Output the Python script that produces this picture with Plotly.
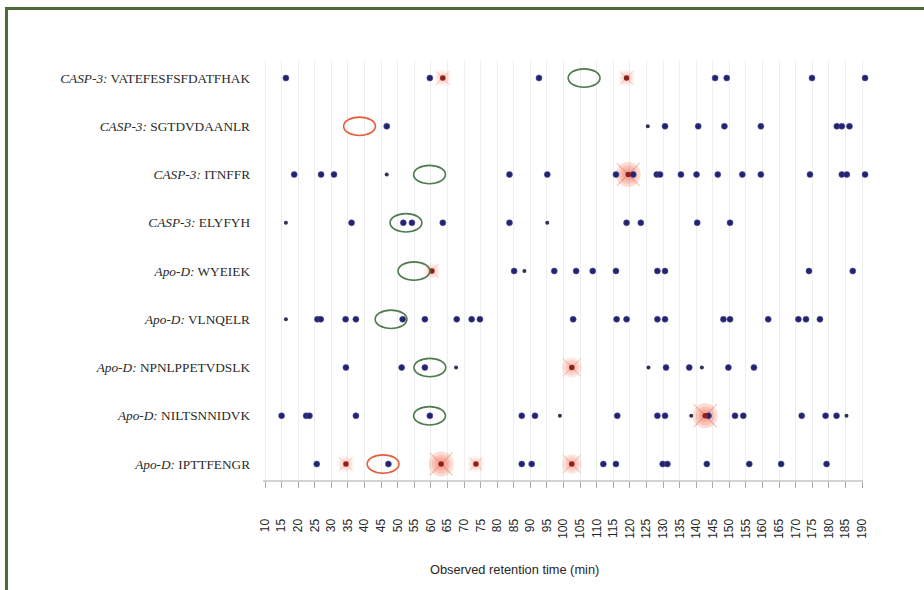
import plotly.graph_objects as go

# Peptides, listed top to bottom
peptides = [
    "<i>CASP-3:</i> VATEFESFSFDATFHAK",
    "<i>CASP-3:</i> SGTDVDAANLR",
    "<i>CASP-3:</i> ITNFFR",
    "<i>CASP-3:</i> ELYFYH",
    "<i>Apo-D:</i> WYEIEK",
    "<i>Apo-D:</i> VLNQELR",
    "<i>Apo-D:</i> NPNLPPETVDSLK",
    "<i>Apo-D:</i> NILTSNNIDVK",
    "<i>Apo-D:</i> IPTTFENGR",
]

# Observed retention times (min) per peptide
obs_times = [
    [16.3, 59.7, 92.6, 145.7, 149.2, 174.9, 190.9],
    [46.7, 130.6, 140.6, 148.5, 159.5, 182.4, 183.9, 186.2],
    [18.8, 26.9, 30.8, 83.7, 95.1, 115.8, 121.0, 128.1, 129.1, 135.4, 140.1, 146.5,
     153.9, 159.5, 174.3, 183.9, 185.4, 190.9],
    [36.1, 51.7, 54.3, 63.6, 83.7, 119.0, 123.3, 140.3, 150.2],
    [85.1, 97.2, 103.8, 108.8, 115.8, 128.3, 130.6, 174.0, 187.2],
    [25.8, 26.8, 34.3, 37.4, 51.5, 58.2, 67.8, 72.3, 74.8, 102.9, 116.0, 119.0,
     128.3, 130.6, 148.2, 150.2, 161.7, 170.8, 173.1, 177.3],
    [34.4, 51.2, 58.2, 130.9, 137.9, 149.7, 157.4],
    [15.0, 22.4, 23.4, 37.4, 59.7, 87.4, 91.4, 116.2, 128.3, 130.6, 143.7, 151.7,
     154.2, 171.8, 179.0, 182.3],
    [25.6, 47.2, 87.4, 90.4, 112.0, 115.8, 129.9, 131.3, 143.2, 156.0, 165.6, 179.3],
]

# Weak (small) observations per peptide
weak_times = [
    [],
    [125.4],
    [46.7],
    [16.3, 95.1],
    [88.2],
    [16.3],
    [67.6, 125.6, 141.7],
    [98.9, 138.5, 185.3],
    [],
]

# Highlighted observations: (peptide index, time, intensity 1-3)
hl_row = [0, 0, 2, 4, 6, 7, 8, 8, 8, 8]
hl_time = [63.6, 119.0, 119.5, 60.3, 102.5, 142.7, 34.4, 63.1, 73.6, 102.5]
hl_level = [1, 1, 3, 1, 2, 3, 1, 3, 1, 2]

# Predicted retention windows: (peptide index, centre time, kind)
win_row = [0, 2, 3, 4, 5, 6, 7, 1, 8]
win_time = [106.2, 59.6, 52.5, 54.9, 48.0, 59.7, 59.6, 38.5, 45.6]
win_kind = ["ok", "ok", "ok", "ok", "ok", "ok", "ok", "miss", "miss"]

x_ticks = list(range(10, 191, 5))

W, H = 924, 590
ML, MR, MT, MB = 263, 52, 60, 109
PW, PH = W - ML - MR, H - MT - MB
PX_PER_MIN = 3.317

n = len(peptides)
yv = [n - 1 - i for i in range(n)]

DOT = "#24246e"
GLOW_DOT = "#8e1f1f"

fig = go.Figure()

# Highlight glows: stacked translucent discs give a soft halo, plus faint rays
glow_base = {1: 16, 2: 20, 3: 25}
glow_alpha = {1: 0.09, 2: 0.15, 3: 0.22}
for lvl in (1, 2, 3):
    xs = [t for t, l in zip(hl_time, hl_level) if l == lvl]
    ys = [yv[r] for r, l in zip(hl_row, hl_level) if l == lvl]
    for scale in (1.0, 0.75, 0.5):
        fig.add_trace(go.Scatter(
            x=xs, y=ys, mode="markers", cliponaxis=False, hoverinfo="skip",
            marker=dict(size=glow_base[lvl] * scale,
                        color=f"rgba(240,100,70,{glow_alpha[lvl]})",
                        line=dict(width=0)),
        ))
    ray = f"rgba(232,90,60,{glow_alpha[lvl] + 0.1:.2f})"
    fig.add_trace(go.Scatter(
        x=xs, y=ys, mode="markers", cliponaxis=False, hoverinfo="skip",
        marker=dict(size=glow_base[lvl] - 2, symbol="x-thin-open", color=ray,
                    line=dict(width=1.2, color=ray)),
    ))

# Regular observations
xs, ys = [], []
for i, times in enumerate(obs_times):
    xs += times
    ys += [yv[i]] * len(times)
fig.add_trace(go.Scatter(
    x=xs, y=ys, mode="markers", cliponaxis=False,
    marker=dict(size=6, color=DOT, line=dict(width=0.6, color="#4d4d9c")),
))

# Weak observations
xs, ys = [], []
for i, times in enumerate(weak_times):
    xs += times
    ys += [yv[i]] * len(times)
fig.add_trace(go.Scatter(
    x=xs, y=ys, mode="markers", cliponaxis=False,
    marker=dict(size=4, color="#303058"),
))

# Highlighted observation centres
fig.add_trace(go.Scatter(
    x=hl_time, y=[yv[r] for r in hl_row], mode="markers", cliponaxis=False,
    marker=dict(size=5.5, color=GLOW_DOT),
))

# Predicted windows as ellipses
shapes = []
hw, hh = 4.8, 0.19
for r, t, k in zip(win_row, win_time, win_kind):
    col = "#4f7d4f" if k == "ok" else "#e2603e"
    shapes.append(dict(type="circle", xref="x", yref="y",
                       x0=t - hw, x1=t + hw, y0=yv[r] - hh, y1=yv[r] + hh,
                       line=dict(color=col, width=1.6), fillcolor="rgba(0,0,0,0)",
                       layer="above"))

x0_val = 10 - (265 - ML) / PX_PER_MIN
x1_val = 10 + (W - MR - 265) / PX_PER_MIN
x_axis_end = 190.3
y_lo = -0.352
y_hi = y_lo + PH / 48.25

# Baseline of the time axis
shapes.append(dict(type="line", xref="x", yref="paper", x0=x0_val, x1=x_axis_end,
                   y0=0, y1=0, line=dict(color="#a8a8a8", width=1)))

# Frame lines around the figure (left and top edges)
def px_x(p):
    return (p - ML) / PW

def px_y(p):
    return (H - MB - p) / PH

green = "#4b6d35"
shapes.append(dict(type="line", xref="paper", yref="paper",
                   x0=px_x(6.5), x1=px_x(6.5), y0=px_y(7), y1=px_y(600),
                   line=dict(color=green, width=3)))
shapes.append(dict(type="line", xref="paper", yref="paper",
                   x0=px_x(5), x1=px_x(940), y0=px_y(8.5), y1=px_y(8.5),
                   line=dict(color=green, width=3)))

fig.update_layout(
    width=W, height=H,
    margin=dict(l=ML, r=MR, t=MT, b=MB),
    paper_bgcolor="white", plot_bgcolor="white",
    showlegend=False,
    shapes=shapes,
    xaxis=dict(
        range=[x0_val, x1_val], tickvals=x_ticks, ticktext=[str(v) for v in x_ticks],
        tickangle=-90, ticks="outside", ticklen=6, tickcolor="#a8a8a8",
        showline=False,
        showgrid=True, gridcolor="#efefef", gridwidth=1, zeroline=False,
        tickfont=dict(family="Liberation Sans, Arial", size=12, color="#262626"),
        ticklabelstandoff=26,
    ),
    yaxis=dict(
        range=[y_lo, y_hi], tickvals=yv, ticktext=peptides,
        showgrid=False, zeroline=False, showline=False, ticks="",
        tickfont=dict(family="Liberation Serif, Times New Roman", size=13.3, color="#2a2a2a"),
        ticklabelstandoff=12,
    ),
    annotations=[dict(
        text="Observed retention time (min)", xref="paper", yref="paper",
        x=px_x(514), y=px_y(569), xanchor="center", yanchor="middle",
        showarrow=False, font=dict(family="Liberation Sans, Arial", size=12.8, color="#262626"),
    )],
)

fig.write_html("out.html")
